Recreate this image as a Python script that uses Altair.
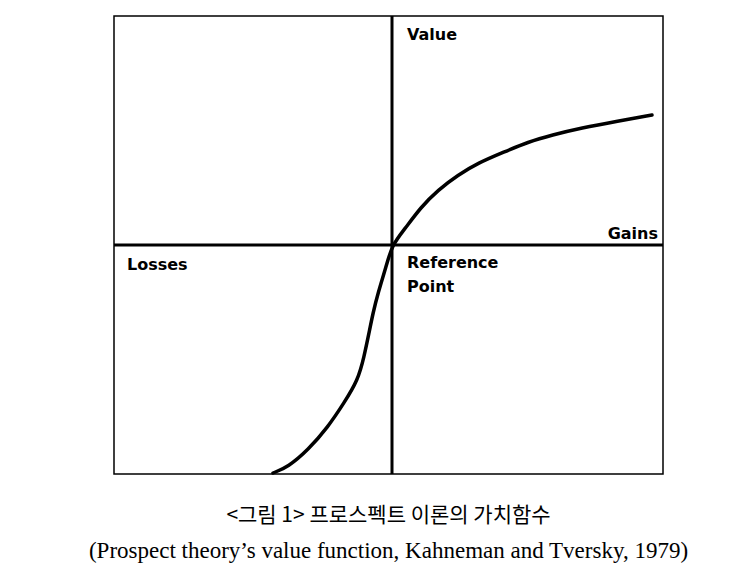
import altair as alt
import pandas as pd

# Value-function curve (x = outcome relative to reference point, y = value)
curve_x = [-1.19, -1.04, -0.84, -0.64, -0.48, -0.34, -0.28, -0.23, -0.19, -0.14, -0.06, 0.0,
           0.12, 0.29, 0.46, 0.66, 0.86, 1.12, 1.36, 1.60, 1.89, 2.26, 2.60]
curve_y = [-2.28, -2.22, -2.05, -1.82, -1.58, -1.35, -1.12, -0.88, -0.68, -0.48, -0.22, 0.0,
           0.15, 0.38, 0.55, 0.70, 0.82, 0.93, 1.03, 1.10, 1.17, 1.24, 1.30]

# Annotation labels
label_text = ["Value", "Gains", "Losses", "Reference", "Point"]
label_x = [0.15, 2.66, -2.65, 0.15, 0.15]
label_y = [2.10, 0.11, -0.20, -0.18, -0.42]
label_align = ["left", "right", "left", "left", "left"]

x_domain = [-2.78, 2.71]
y_domain = [-2.29, 2.29]

caption = "<그림 1> 프로스펙트 이론의 가치함수"
subcaption = "(Prospect theory\u2019s value function, Kahneman and Tversky, 1979)"

curve_df = pd.DataFrame({"x": curve_x, "y": curve_y})
lab_df = pd.DataFrame({"x": label_x, "y": label_y, "t": label_text, "a": label_align})
zero_df = pd.DataFrame({"z": [0.0]})

xs = alt.Scale(domain=x_domain, nice=False, zero=False)
ys = alt.Scale(domain=y_domain, nice=False, zero=False)

vaxis = alt.Chart(zero_df).mark_rule(color="black", strokeWidth=3).encode(
    x=alt.X("z:Q", scale=xs, axis=None)
)
haxis = alt.Chart(zero_df).mark_rule(color="black", strokeWidth=3).encode(
    y=alt.Y("z:Q", scale=ys, axis=None)
)

line = alt.Chart(curve_df).mark_line(
    color="black", strokeWidth=3.5, interpolate="basis", strokeCap="round"
).encode(
    x=alt.X("x:Q", scale=xs, axis=None),
    y=alt.Y("y:Q", scale=ys, axis=None),
    order="x:Q",
)

def labels(align):
    d = lab_df[lab_df["a"] == align]
    return alt.Chart(d).mark_text(
        align=align, baseline="middle", font="DejaVu Sans", fontWeight="bold",
        fontSize=16, color="black"
    ).encode(
        x=alt.X("x:Q", scale=xs, axis=None),
        y=alt.Y("y:Q", scale=ys, axis=None),
        text="t:N",
    )

chart = alt.layer(vaxis, haxis, line, labels("left"), labels("right")).properties(
    width=549,
    height=458,
    padding={"left": 80, "top": 6, "right": 40, "bottom": 10},
    title=alt.TitleParams(
        text=caption,
        subtitle=subcaption,
        orient="bottom",
        anchor="middle",
        offset=25,
        font="Noto Sans CJK KR",
        fontSize=21,
        fontWeight="normal",
        color="black",
        subtitleFont="Liberation Serif",
        subtitleFontSize=23,
        subtitleColor="black",
        subtitlePadding=14,
    ),
).configure_view(stroke="black", strokeWidth=1.5)

chart.save("out.html", embed_options={"renderer": "svg", "actions": False})
